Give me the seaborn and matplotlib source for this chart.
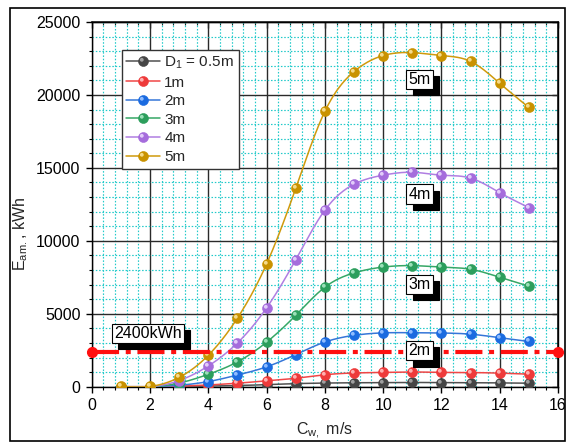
import numpy as np
import pandas as pd
import matplotlib
matplotlib.use("Agg")
import matplotlib.pyplot as plt
import seaborn as sns
from matplotlib.path import Path
from matplotlib.lines import Line2D
from matplotlib.patches import Rectangle
from matplotlib.legend_handler import HandlerTuple
from matplotlib.ticker import MultipleLocator

# ---- data -------------------------------------------------------------
wind_speed = [1, 2, 3, 4, 5, 6, 7, 8, 9, 10, 11, 12, 13, 14, 15]
energy_d05 = [0, 0, 10, 40, 80, 140, 210, 250, 270, 280, 290, 280, 275, 260, 240]
energy_d1 = [0, 0, 40, 120, 240, 400, 580, 820, 940, 980, 1010, 980, 970, 930, 860]
energy_d2 = [0, 0, 100, 350, 800, 1360, 2200, 3060, 3520, 3690, 3700, 3680, 3600, 3360, 3100]
energy_d3 = [0, 0, 250, 850, 1700, 3050, 4890, 6820, 7800, 8200, 8300, 8200, 8050, 7500, 6890]
energy_d4 = [0, 0, 420, 1420, 3000, 5400, 8700, 12100, 13880, 14500, 14700, 14500, 14300, 13300, 12280]
energy_d5 = [20, 20, 640, 2150, 4700, 8410, 13590, 18870, 21600, 22700, 22900, 22700, 22300, 20800, 19140]

series_labels = ["D$_1$ = 0.5m", "1m", "2m", "3m", "4m", "5m"]
series_values = [energy_d05, energy_d1, energy_d2, energy_d3, energy_d4, energy_d5]
threshold_kwh = 2400
threshold_label = "2400kWh"
curve_tags = ["2m", "3m", "4m", "5m"]

# ---- style ------------------------------------------------------------
line_colors = ["#505050", "#F04646", "#3576D8", "#36A766", "#B07EE2", "#D09A0C"]
ball_colors = ["#454545", "#EE3A3A", "#1B6BE0", "#2C9E5C", "#A56CDC", "#C99200"]
shine_colors = ["#A0A0A0", "#FFB0B0", "#8FBCFF", "#9BE0B8", "#E2CCFA", "#F5DA8A"]

sns.set_theme(style="white")
plt.rcParams["font.family"] = ["Liberation Sans", "DejaVu Sans"]
plt.rcParams["mathtext.default"] = "regular"
FS = 11.5

fig = plt.figure(figsize=(5.68, 4.43), dpi=100)
ax = fig.add_axes([91.7 / 568, (443 - 386.7) / 443, (558 - 91.7) / 568, (386.7 - 22) / 443])


def smooth_curve(x, y, n=24):
    """Natural cubic spline through the points (Origin-style spline connector)."""
    x = np.asarray(x, float)
    y = np.asarray(y, float)
    m = len(x)
    h = np.diff(x)
    A = np.zeros((m, m))
    r = np.zeros(m)
    A[0, 0] = A[-1, -1] = 1
    for i in range(1, m - 1):
        A[i, i - 1] = h[i - 1]
        A[i, i] = 2 * (h[i - 1] + h[i])
        A[i, i + 1] = h[i]
        r[i] = 6 * ((y[i + 1] - y[i]) / h[i] - (y[i] - y[i - 1]) / h[i - 1])
    M = np.linalg.solve(A, r)
    xs, ys = [], []
    for i in range(m - 1):
        t = np.linspace(x[i], x[i + 1], n, endpoint=(i == m - 2))
        a = (x[i + 1] - t) / h[i]
        b = (t - x[i]) / h[i]
        yy = a * y[i] + b * y[i + 1] + ((a ** 3 - a) * M[i] + (b ** 3 - b) * M[i + 1]) * h[i] ** 2 / 6
        xs.append(t)
        ys.append(yy)
    return np.concatenate(xs), np.concatenate(ys)


# highlight spot for the glossy ball markers
_anchor = Path([(0.5, 0.5), (0.5, 0.5)], [Path.MOVETO, Path.LINETO])
shine_marker = Path.make_compound_path(_anchor, Path.circle((-0.17, 0.17), 0.19))

MS = 7.2
handles = []
for k, (lab, vals) in enumerate(zip(series_labels, series_values)):
    sx, sy = smooth_curve(wind_speed, vals)
    curve = pd.DataFrame({"Cw": sx, "E": sy})
    sns.lineplot(data=curve, x="Cw", y="E", ax=ax, color=line_colors[k], lw=1.1,
                 zorder=3 + k, legend=False, sort=False, estimator=None)
    pts = pd.DataFrame({"Cw": wind_speed, "E": vals})
    ax.plot(pts["Cw"], pts["E"], ls="none", marker="o", ms=MS, mfc=ball_colors[k],
            mec=ball_colors[k], mew=0.4, zorder=3.5 + k)
    ax.plot(pts["Cw"], pts["E"], ls="none", marker=shine_marker, ms=MS, mfc=shine_colors[k],
            mew=0, zorder=3.6 + k)
    h_ball = Line2D([], [], color=line_colors[k], lw=1.1, marker="o", ms=MS,
                    mfc=ball_colors[k], mec=ball_colors[k], mew=0.4)
    h_shine = Line2D([], [], ls="none", marker=shine_marker, ms=MS, mfc=shine_colors[k], mew=0)
    handles.append((h_ball, h_shine))

# threshold line
ax.axhline(threshold_kwh, 0, 1, color="#FF1010", lw=3.0, dashes=(6.5, 1.6, 1.2, 1.6),
           marker="o", ms=7, mfc="#FF1010", mec="#FF1010", clip_on=False, zorder=10)

# axes, ticks, grids
ax.set_xlim(0, 16)
ax.set_ylim(0, 25000)
ax.xaxis.set_major_locator(MultipleLocator(2))
ax.xaxis.set_minor_locator(MultipleLocator(0.4))
ax.yaxis.set_major_locator(MultipleLocator(5000))
ax.yaxis.set_minor_locator(MultipleLocator(1000))
ax.set_axisbelow(True)
ax.grid(which="major", color="#2a2a2a", lw=1.0, ls="-")
ax.grid(which="minor", color="#22CACA", lw=0.85, ls=(0, (1.3, 1.5)))
ax.tick_params(which="major", direction="out", length=4.5, width=1, color="black",
               labelsize=FS, labelcolor="black", pad=3.5)
ax.tick_params(which="minor", direction="out", length=2.5, width=0.8, color="black")
ax.tick_params(axis="both", which="both", bottom=True, left=True)
for side in ["top", "right", "bottom", "left"]:
    ax.spines[side].set_visible(True)
    ax.spines[side].set_color("black")
    ax.spines[side].set_linewidth(1.0)

top = ax.secondary_xaxis("top")
top.xaxis.set_major_locator(MultipleLocator(2))
top.xaxis.set_minor_locator(MultipleLocator(0.4))
top.tick_params(which="major", direction="in", length=4.5, width=1, labeltop=False)
top.tick_params(which="minor", direction="in", length=2.5, width=0.8)
right = ax.secondary_yaxis("right")
right.yaxis.set_major_locator(MultipleLocator(5000))
right.yaxis.set_minor_locator(MultipleLocator(1000))
right.tick_params(which="major", direction="in", length=4.5, width=1, labelright=False)
right.tick_params(which="minor", direction="in", length=2.5, width=0.8)

ax.set_xlabel("C$_{w,}$ m/s", fontsize=FS)
ax.set_ylabel("E$_{am.}$, kWh", fontsize=FS)
ax.xaxis.set_label_coords(0.5, -0.093)
ax.yaxis.set_label_coords(-0.133, 0.42)

# curve tags with drop shadow
def tag(x, y, s):
    box = dict(boxstyle="square,pad=0.13", fc="black", ec="black", lw=0.8)
    ax.annotate(s, (x, y), xytext=(4.5, -4.5), textcoords="offset points", ha="center",
                va="center", fontsize=FS, color="black", bbox=box, zorder=11)
    ax.text(x, y, s, ha="center", va="center", fontsize=FS, color="black", zorder=12,
            bbox=dict(boxstyle="square,pad=0.13", fc="white", ec="black", lw=0.8))


for s, ty in zip(curve_tags, [2468, 7016, 13206, 21080]):
    tag(11.25, ty, s)
tag(1.93, 3661, threshold_label)

leg = ax.legend(handles, series_labels, handler_map={tuple: HandlerTuple(ndivide=1, pad=0)},
                loc="upper left", bbox_to_anchor=(0.064, 0.923), fontsize=11, frameon=True,
                fancybox=False, framealpha=1, edgecolor="#333333", borderaxespad=0,
                handlelength=2.2, handletextpad=0.3, labelspacing=0.3, borderpad=0.3)
leg.get_frame().set_linewidth(1.0)
leg.set_zorder(20)

# outer frame around the figure
fig.patches.append(Rectangle((10 / 568, 2 / 443), 555 / 568, 433 / 443, transform=fig.transFigure,
                             fill=False, ec="black", lw=1.2))

fig.savefig("out.png", dpi=100)
